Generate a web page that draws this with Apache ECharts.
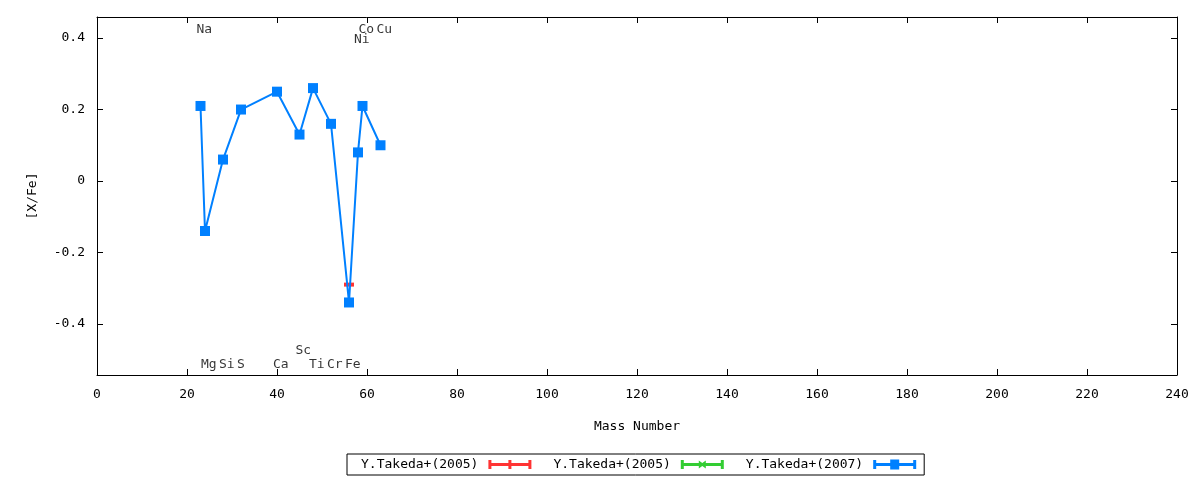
<!DOCTYPE html>
<html><head><meta charset="utf-8">
<script src="https://cdn.jsdelivr.net/npm/echarts@6/dist/echarts.min.js"></script>
<style>html,body{margin:0;padding:0;background:#fff}#c{width:1200px;height:480px}</style>
</head><body><div id="c"></div>
<script>
// Y.Takeda+(2007) abundances
const massNumbers = [23, 24, 28, 32, 40, 45, 48, 52, 56, 58, 59, 63];
const xFe2007 = [0.21, -0.14, 0.06, 0.20, 0.25, 0.13, 0.26, 0.16, -0.34, 0.08, 0.21, 0.10];
// Y.Takeda+(2005) (red)
const mass2005a = [56];
const xFe2005a = [-0.29];
// Y.Takeda+(2005) (green) - no points in view
const mass2005b = [];
const xFe2005b = [];
// element labels
const elemNames = ['Na', 'Mg', 'Si', 'S', 'Ca', 'Sc', 'Ti', 'Cr', 'Fe', 'Ni', 'Co', 'Cu'];
const elemMass  = [23, 24, 28, 32, 40, 45, 48, 52, 56, 58, 59, 63];
const elemY     = [0.425, -0.515, -0.515, -0.515, -0.515, -0.476, -0.515, -0.515, -0.515, 0.397, 0.425, 0.425];
const yTicks = [-0.4, -0.2, 0, 0.2, 0.4];
const seriesNames = ['Y.Takeda+(2005)', 'Y.Takeda+(2005)\u200b', 'Y.Takeda+(2007)'];

const FONT = 'DejaVu Sans Mono';
const FS = 13;
const chart = echarts.init(document.getElementById('c'), null, {renderer: 'canvas'});
const tickStyle = {show: true, inside: true, length: 6, lineStyle: {color: '#000', width: 1}};
const lineAx = {show: true, onZero: false, lineStyle: {color: '#000', width: 1}};
function pairs(xs, ys) { return xs.map((x, i) => [x, ys[i]]); }

const iconRed = 'path://M0,3.5H43V6.5H0Z M0,0.5H3V9.5H0Z M40,0.5H43V9.5H40Z M20,0.5H23V9.5H20Z';
const iconGreen = 'path://M0,3.5H43V6.5H0Z M0,0.5H3V9.5H0Z M40,0.5H43V9.5H40Z M18,1L21.5,3.5L25,1V9L21.5,6.5L18,9Z';
const iconBlue = 'path://M0,3.5H43V6.5H0Z M0,0.5H3V9.5H0Z M40,0.5H43V9.5H40Z M17,0H26V10H17Z';

chart.setOption({
  animation: false,
  textStyle: {fontFamily: FONT},
  grid: {left: 97, right: 23, top: 17, bottom: 105, show: false},
  legend: {
    data: [
      {name: seriesNames[0], icon: iconRed},
      {name: seriesNames[1], icon: iconGreen},
      {name: seriesNames[2], icon: iconBlue}
    ],
    align: 'right',
    bottom: 5, left: 347,
    itemWidth: 43, itemHeight: 10, itemGap: 22,
    borderColor: '#000', borderWidth: 1, borderRadius: 0,
    padding: [4, 8, 4, 14],
    textStyle: {fontFamily: FONT, fontSize: FS, color: '#000', padding: [0, 5, 0, 0]},
    formatter: n => n.replace('\u200b', ''),
    selectedMode: false
  },
  xAxis: [{
    type: 'value', min: 0, max: 240, interval: 20,
    name: 'Mass Number', nameLocation: 'middle', nameGap: 45,
    nameTextStyle: {fontFamily: FONT, fontSize: FS, color: '#000'},
    axisLine: lineAx, axisTick: tickStyle, splitLine: {show: false},
    axisLabel: {fontFamily: FONT, fontSize: FS, color: '#000', margin: 13}
  }, {
    type: 'value', min: 0, max: 240, interval: 20, position: 'top',
    axisLine: lineAx, axisTick: tickStyle, splitLine: {show: false}, axisLabel: {show: false}
  }],
  yAxis: [{
    type: 'value', min: -0.543, max: 0.459,
    name: '[X/Fe]', nameLocation: 'middle', nameGap: 58, nameRotate: 90,
    nameTextStyle: {fontFamily: FONT, fontSize: FS, color: '#000'},
    axisLine: lineAx,
    axisTick: Object.assign({}, tickStyle, {customValues: yTicks}),
    splitLine: {show: false},
    axisLabel: {fontFamily: FONT, fontSize: FS, color: '#000', margin: 12, customValues: yTicks,
      formatter: v => (Math.round(v * 10) / 10).toString()}
  }, {
    type: 'value', min: -0.543, max: 0.459, position: 'right',
    axisLine: lineAx,
    axisTick: Object.assign({}, tickStyle, {customValues: yTicks}),
    splitLine: {show: false}, axisLabel: {show: false}
  }],
  series: [
    {
      name: seriesNames[0], type: 'scatter', data: pairs(mass2005a, xFe2005a),
      symbol: 'rect', symbolSize: [10, 4], itemStyle: {color: '#ff0000'}, z: 2
    },
    {
      name: seriesNames[1], type: 'scatter', data: pairs(mass2005b, xFe2005b),
      symbol: 'rect', symbolSize: [10, 4], itemStyle: {color: '#00c000'}, z: 2
    },
    {
      name: seriesNames[2], type: 'line', data: pairs(massNumbers, xFe2007),
      symbol: 'rect', symbolSize: 10, showAllSymbol: true,
      lineStyle: {color: '#0080ff', width: 2}, itemStyle: {color: '#0080ff'}, z: 3
    },
    {
      name: 'labels', type: 'scatter', silent: true, symbolSize: 0, z: 5,
      data: elemNames.map((n, i) => ({name: n, value: [elemMass[i], elemY[i]]})),
      label: {show: true, position: 'right', distance: -4, formatter: p => p.name,
        fontFamily: FONT, fontSize: FS, color: '#000'}
    }
  ]
});
</script></body></html>
